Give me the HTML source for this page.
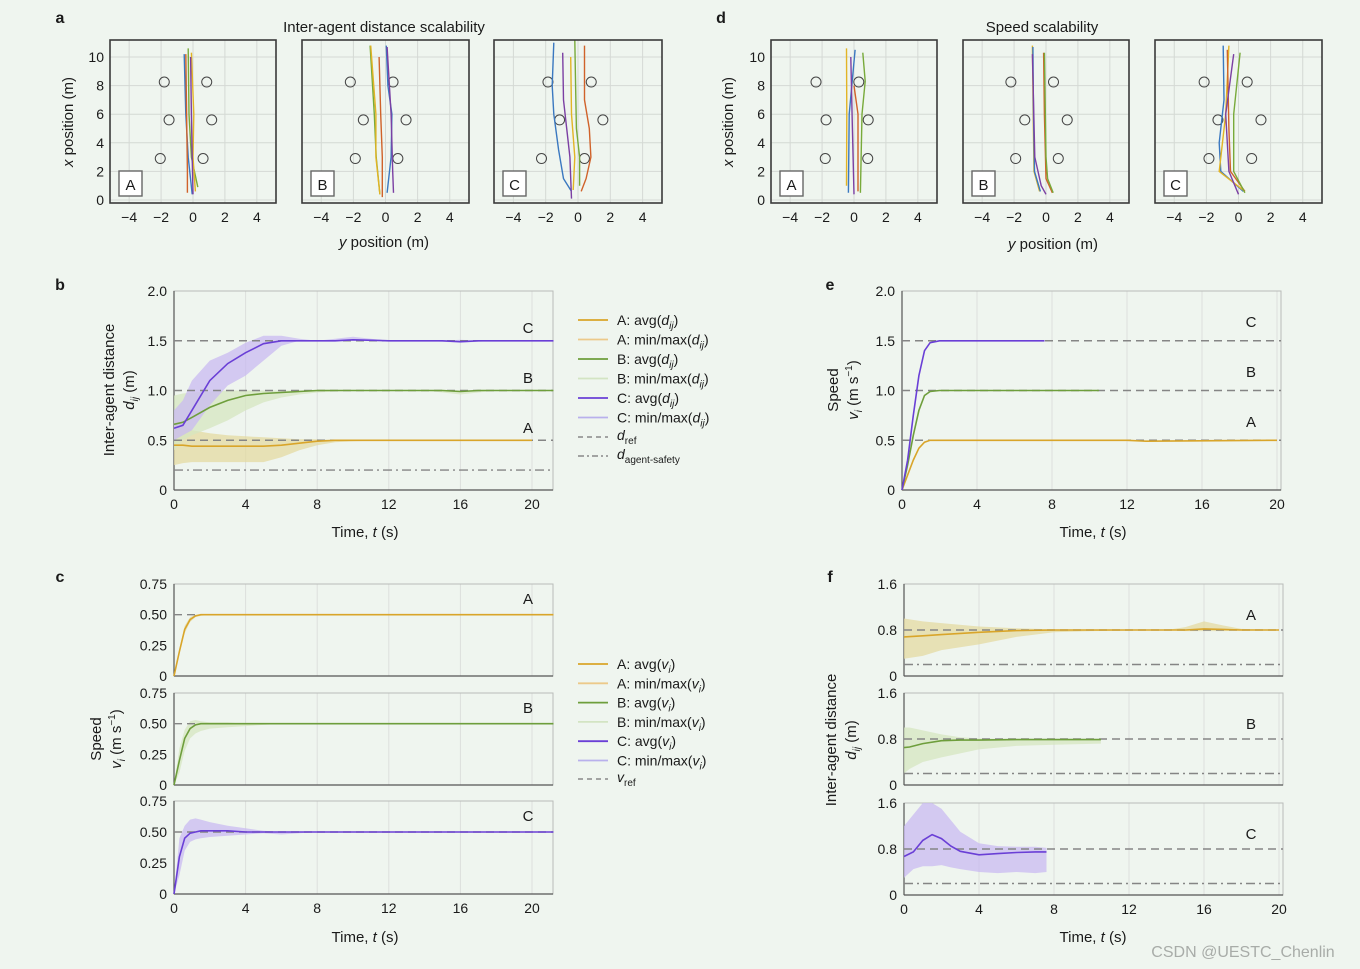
<!DOCTYPE html>
<html><head><meta charset="utf-8"><style>
html,body{margin:0;padding:0;background:#eff5ef;}
svg{display:block;font-family:"Liberation Sans",Arial,sans-serif;}
</style></head><body>
<svg id="fig" width="1360" height="969" viewBox="0 0 1360 969"></svg>
<script>
// ---------- DATA ----------
// panel a obstacles [y, x]
const obsAA=[[-1.8,8.25],[0.86,8.25],[-1.5,5.6],[1.17,5.6],[-2.05,2.9],[0.63,2.9]];
const obsAB=[[-2.19,8.25],[0.47,8.25],[-1.38,5.6],[1.28,5.6],[-1.88,2.9],[0.77,2.9]];
const obsAC=[[-1.86,8.25],[0.82,8.25],[-1.14,5.6],[1.54,5.6],[-2.26,2.9],[0.4,2.9]];
const trajAA={blue:[[-0.55,10.2],[-0.45,6],[-0.3,3],[-0.05,0.4]],orange:[[-0.45,10.2],[-0.4,6],[-0.35,2],[-0.35,0.5]],green:[[-0.3,10.6],[-0.25,6],[-0.1,3],[0.3,0.9]],yellow:[[-0.1,10.3],[0.05,6],[0,3],[0.15,0.6]],purple:[[-0.15,10],[-0.1,6],[-0.05,3],[0,0.4]]};
const trajAB={green:[[-0.96,10.8],[-0.7,6],[-0.58,3],[-0.35,0.4]],yellow:[[-0.92,10.8],[-0.6,6],[-0.6,3],[-0.35,0.4]],orange:[[-0.4,10],[-0.3,6],[-0.2,3],[-0.2,0.2]],blue:[[0.05,10.8],[0.15,8],[0.4,6],[0.35,3],[0.1,0.5]],purple:[[0.1,10.7],[0.35,6],[0.45,2],[0.5,0.5]]};
const trajAC={blue:[[-1.5,11],[-1.6,8],[-1.5,6],[-1.2,3.5],[-0.9,1.5],[-0.4,0.6]],purple:[[-0.95,10.3],[-0.9,7],[-0.7,5],[-0.5,3],[-0.4,0.1]],yellow:[[-0.45,10],[-0.4,6],[-0.2,3],[-0.3,0.7]],green:[[-0.2,11.2],[-0.15,8],[-0.1,5],[0.1,3],[0.1,1]],orange:[[0.4,10.8],[0.4,7],[0.7,5],[0.8,3],[0.5,1.5],[0.2,0.6]]};
const obsDA=[[-2.38,8.25],[0.3,8.25],[-1.75,5.6],[0.89,5.6],[-1.8,2.9],[0.86,2.9]];
const obsDB=[[-2.2,8.25],[0.47,8.25],[-1.33,5.6],[1.33,5.6],[-1.9,2.9],[0.77,2.9]];
const obsDC=[[-2.14,8.25],[0.54,8.25],[-1.28,5.6],[1.4,5.6],[-1.84,2.9],[0.82,2.9]];
const trajDA={yellow:[[-0.47,10.6],[-0.45,6],[-0.47,1]],blue:[[0.07,10.5],[-0.3,6],[-0.35,0.5]],purple:[[-0.2,10],[-0.1,5],[0,0.4]],orange:[[0,8],[0.25,6],[0.25,0.6]],green:[[0.55,10.3],[0.7,8.3],[0.5,6],[0.4,0.5]]};
const trajDB={yellow:[[-0.85,10.8],[-0.8,6],[-0.75,2],[-0.4,0.6]],blue:[[-0.82,10.7],[-0.78,6],[-0.72,2],[-0.35,0.6]],purple:[[-0.85,10.2],[-0.7,3],[-0.3,1],[0,0.4]],orange:[[-0.15,10.3],[-0.1,6],[0,1.5],[0.4,0.5]],green:[[-0.1,10.3],[0,3],[0.1,1.5],[0.45,0.5]]};
const trajDC={blue:[[-0.95,10.8],[-0.9,7],[-1.2,4],[-1.1,2],[0.3,0.6]],yellow:[[-0.6,10.8],[-0.8,6],[-1.2,2],[0.4,0.6]],orange:[[-0.7,10.5],[-0.6,5],[-0.5,2],[0.4,0.6]],purple:[[-0.3,10.2],[-0.8,6],[-0.6,2],[0,0.4]],green:[[0.1,10.3],[-0.3,6],[-0.3,2],[0.4,0.5]]};
// panel b
const tB=[0,0.5,1,2,3,4,5,6,7,8,9,10,12,14,15,16,17,18,20,21.2];
const bAavg=[0.45,0.45,0.44,0.44,0.44,0.44,0.44,0.45,0.47,0.49,0.5,0.5,0.5,0.5,0.5,0.5,0.5,0.5,0.5,0.5];
const bAmin=[0.25,0.27,0.28,0.28,0.28,0.28,0.28,0.33,0.4,0.45,0.48,0.49,0.5,0.5,0.5,0.5,0.5,0.5,0.5,0.5];
const bAmax=[0.72,0.65,0.6,0.57,0.55,0.54,0.53,0.52,0.51,0.51,0.5,0.5,0.5,0.5,0.5,0.5,0.5,0.5,0.5,0.5];
const bBavg=[0.66,0.68,0.73,0.83,0.9,0.95,0.97,0.98,0.99,1,1,1,1,1,1,0.99,1,1,1,1];
const bBmin=[0.4,0.5,0.55,0.62,0.7,0.8,0.88,0.93,0.96,0.98,0.99,1,1,1,0.98,0.96,0.98,1,1,1];
const bBmax=[0.95,0.97,0.98,0.99,1,1,1,1,1,1,1,1,1,1,1,1,1,1,1,1];
const bCavg=[0.62,0.65,0.8,1.1,1.27,1.38,1.47,1.5,1.5,1.5,1.5,1.51,1.5,1.5,1.5,1.49,1.5,1.5,1.5,1.5];
const bCmin=[0.5,0.55,0.6,0.85,1.05,1.15,1.3,1.45,1.5,1.5,1.5,1.5,1.5,1.5,1.49,1.48,1.49,1.5,1.5,1.5];
const bCmax=[0.8,0.9,1.1,1.3,1.38,1.48,1.55,1.55,1.52,1.5,1.52,1.54,1.5,1.5,1.5,1.51,1.5,1.5,1.5,1.5];
// panel e
const eCt=[0,0.3,0.6,0.9,1.2,1.5,2,3,5,7.6];
const eCv=[0,0.3,0.75,1.15,1.4,1.48,1.5,1.5,1.5,1.5];
const eBt=[0,0.3,0.6,0.9,1.2,1.5,2,4,8,10.5];
const eBv=[0,0.25,0.55,0.8,0.95,0.99,1,1,1,1];
const eAt=[0,0.3,0.6,0.9,1.2,1.5,2,4,8,12,13,20];
const eAv=[0,0.15,0.3,0.42,0.48,0.5,0.5,0.5,0.5,0.5,0.49,0.5];
// panel c
const cT=[0,0.3,0.6,0.9,1.2,1.5,2,3,4,5,6,8,21.2];
const cAavg=[0,0.2,0.38,0.46,0.49,0.5,0.5,0.5,0.5,0.5,0.5,0.5,0.5];
const cAmin=[0,0.18,0.35,0.44,0.48,0.49,0.5,0.5,0.5,0.5,0.5,0.5,0.5];
const cAmax=[0,0.22,0.41,0.48,0.5,0.5,0.5,0.5,0.5,0.5,0.5,0.5,0.5];
const cBavg=[0,0.2,0.38,0.46,0.49,0.5,0.5,0.5,0.5,0.5,0.5,0.5,0.5];
const cBmin=[0,0.1,0.28,0.38,0.42,0.44,0.46,0.47,0.48,0.49,0.5,0.5,0.5];
const cBmax=[0,0.3,0.45,0.52,0.53,0.52,0.51,0.51,0.5,0.5,0.5,0.5,0.5];
const cCavg=[0,0.3,0.45,0.49,0.5,0.51,0.51,0.51,0.5,0.5,0.5,0.5,0.5];
const cCmin=[0,0.15,0.35,0.42,0.44,0.45,0.46,0.47,0.48,0.49,0.48,0.5,0.5];
const cCmax=[0,0.45,0.55,0.6,0.61,0.6,0.58,0.55,0.53,0.51,0.5,0.5,0.5];
// panel f
const fAt=[0,1,2,4,6,8,10,12,14,15,16,17,18,20];
const fAavg=[0.68,0.7,0.72,0.76,0.79,0.8,0.8,0.8,0.8,0.8,0.82,0.81,0.8,0.8];
const fAmin=[0.3,0.35,0.45,0.55,0.68,0.76,0.78,0.79,0.8,0.78,0.78,0.78,0.79,0.8];
const fAmax=[1.0,0.95,0.92,0.86,0.83,0.81,0.8,0.8,0.8,0.85,0.95,0.88,0.82,0.8];
const fBt=[0,0.3,1,2,3,4,6,8,10.5];
const fBavg=[0.65,0.66,0.72,0.77,0.78,0.78,0.79,0.79,0.79];
const fBmin=[0.2,0.28,0.4,0.48,0.55,0.62,0.68,0.7,0.72];
const fBmax=[1.0,1.0,0.95,0.88,0.83,0.81,0.8,0.8,0.8];
const fCt=[0,0.5,1,1.5,2,2.5,3,4,5,6,7,7.6];
const fCavg=[0.67,0.75,0.95,1.05,0.98,0.85,0.76,0.7,0.72,0.74,0.75,0.75];
const fCmin=[0.3,0.45,0.5,0.5,0.52,0.48,0.45,0.4,0.38,0.4,0.38,0.4];
const fCmax=[1.2,1.4,1.6,1.6,1.5,1.3,1.1,0.9,0.85,0.84,0.84,0.82];
const timeTicks=[0,4,8,12,16,20];
const posTicks=[-4,-2,0,2,4];
const xposTicks=[0,2,4,6,8,10];

// ---------- HELPERS ----------
const NS='http://www.w3.org/2000/svg';
const svg=document.getElementById('fig');
function el(tag,attrs,name,parent){
  const e=document.createElementNS(NS,tag);
  for(const k in attrs) e.setAttribute(k,attrs[k]);
  
  
  (parent||svg).appendChild(e);
  return e;
}
function txt(x,y,s,size,name,anchor,extra){
  const a=Object.assign({x:x,y:y,'font-size':size,fill:'#1a1a1a','text-anchor':anchor||'middle'},extra||{});
  const t=el('text',a,name);
  t.textContent=s;
  return t;
}
function rtxt(x,y,html,size,name){
  const t=el('text',{x:0,y:0,'font-size':size,fill:'#1a1a1a','text-anchor':'middle',transform:`translate(${x},${y}) rotate(-90)`},name);
  t.innerHTML=html;
  return t;
}
function scale(d0,d1,p0,p1){return v=>p0+(v-d0)*(p1-p0)/(d1-d0);}
const COL={blue:'#3a78c0',orange:'#d0622a',yellow:'#e2b425',purple:'#7b3fa3',green:'#78aa3a'};
const SER={A:'#d9a52a',B:'#6e9e3c',C:'#6a3fd6'};
const FILL={A:'#e4d9a2',B:'#d6e6c0',C:'#c9b9f2'};
function line(ts,vs,sx,sy,color,w,name){
  let d='';
  for(let i=0;i<ts.length;i++) d+=(i?'L':'M')+sx(ts[i]).toFixed(1)+','+sy(vs[i]).toFixed(1);
  return el('path',{d:d,fill:'none',stroke:color,'stroke-width':w||1.5},name);
}
function band(ts,lo,hi,sx,sy,color,name){
  let d='';
  for(let i=0;i<ts.length;i++) d+=(i?'L':'M')+sx(ts[i]).toFixed(1)+','+sy(hi[i]).toFixed(1);
  for(let i=ts.length-1;i>=0;i--) d+='L'+sx(ts[i]).toFixed(1)+','+sy(lo[i]).toFixed(1);
  return el('path',{d:d+'Z',fill:color,'fill-opacity':0.75,stroke:'none'},name);
}
function hline(x0,x1,y,dash,name){
  return el('line',{x1:x0,x2:x1,y1:y,y2:y,stroke:'#858585','stroke-width':1.4,'stroke-dasharray':dash},name);
}

// ---------- TRAJECTORY SUBPLOTS ----------
function trajPlot(bx0,bx1,label,obs,traj,showY,prefix){
  const sx=scale(-5.2,5.2,bx0,bx1), sy=scale(0,10,200,57);
  for(const t of posTicks) el('line',{x1:sx(t),x2:sx(t),y1:40,y2:203,stroke:'#d4d9d4','stroke-width':1},prefix+'-grid-x');
  for(const t of xposTicks) el('line',{x1:bx0,x2:bx1,y1:sy(t),y2:sy(t),stroke:'#d4d9d4','stroke-width':1},prefix+'-grid-y');
  for(const o of obs) el('circle',{cx:sx(o[0]),cy:sy(o[1]),r:5,fill:'none',stroke:'#444','stroke-width':1},prefix+'-obstacle');
  for(const k in traj){
    const p=traj[k];
    line(p.map(q=>q[0]),p.map(q=>q[1]),sx,sy,COL[k],1.4,prefix+'-trajectory-'+k);
  }
  el('rect',{x:bx0,y:40,width:bx1-bx0,height:163,fill:'none',stroke:'#3a3a3a','stroke-width':1.6},prefix+'-frame');
  el('rect',{x:bx0+9,y:171,width:23,height:25,fill:'#fff',stroke:'#666','stroke-width':1.4},prefix+'-label-box');
  txt(bx0+20.5,190,label,15,prefix+'-label');
  for(const t of posTicks) txt(sx(t),222,t<0?'\u2212'+(-t):String(t),14,prefix+'-xtick-label');
  if(showY) for(const t of xposTicks) txt(bx0-6,sy(t)+5,String(t),14,prefix+'-ytick-label','end');
}
txt(60,23,'a',16,'panel-label-a','middle',{'font-weight':'bold'});
txt(384,32,'Inter-agent distance scalability',15,'panel-a-title');
rtxt(73,122,'<tspan font-style="italic">x</tspan> position (m)',15,'panel-a-y-axis-title');
trajPlot(110,276,'A',obsAA,trajAA,true,'a-A');
trajPlot(302,469,'B',obsAB,trajAB,false,'a-B');
trajPlot(494,662,'C',obsAC,trajAC,false,'a-C');
txt(384,247,'',15,'panel-a-x-axis-title').innerHTML='<tspan font-style="italic">y</tspan> position (m)';

txt(721,23,'d',16,'panel-label-d','middle',{'font-weight':'bold'});
txt(1042,32,'Speed scalability',15,'panel-d-title');
rtxt(733,122,'<tspan font-style="italic">x</tspan> position (m)',15,'panel-d-y-axis-title');
trajPlot(771,937,'A',obsDA,trajDA,true,'d-A');
trajPlot(963,1129,'B',obsDB,trajDB,false,'d-B');
trajPlot(1155,1322,'C',obsDC,trajDC,false,'d-C');
txt(1053,249,'',15,'panel-d-x-axis-title').innerHTML='<tspan font-style="italic">y</tspan> position (m)';

// ---------- TIME PLOT FRAME ----------
function frame(x0,x1,y0,y1,sx,sy,yticks,ylabels,prefix,showX,xr){
  for(const t of timeTicks) if(t>0) el('line',{x1:sx(t),x2:sx(t),y1:y0,y2:y1,stroke:'#dcdfdc','stroke-width':1},prefix+'-grid');
  el('rect',{x:x0,y:y0,width:x1-x0,height:y1-y0,fill:'none',stroke:'#b8bcb8','stroke-width':1},prefix+'-frame');
  el('line',{x1:x0,x2:x0,y1:y0,y2:y1,stroke:'#555','stroke-width':1.2},prefix+'-y-axis');
  el('line',{x1:x0,x2:x1,y1:y1,y2:y1,stroke:'#555','stroke-width':1.2},prefix+'-x-axis');
  for(let i=0;i<yticks.length;i++) txt(x0-7,sy(yticks[i])+5,ylabels[i],14,prefix+'-ytick-label','end');
  if(showX) for(const t of timeTicks) txt(sx(t),y1+19,String(t),14,prefix+'-xtick-label');
}

// ---------- PANEL b ----------
txt(60,290,'b',16,'panel-label-b','middle',{'font-weight':'bold'});
{
  const sx=scale(0,20,174,532), sy=scale(0,2,490,291);
  frame(174,553,291,490,sx,sy,[0,0.5,1,1.5,2],['0','0.5','1.0','1.5','2.0'],'b',true);
  band(tB,bAmin,bAmax,sx,sy,FILL.A,'b-band-A');
  band(tB,bBmin,bBmax,sx,sy,FILL.B,'b-band-B');
  band(tB,bCmin,bCmax,sx,sy,FILL.C,'b-band-C');
  for(const r of [0.5,1,1.5]) hline(174,553,sy(r),'8,5','b-d-ref-line');
  hline(174,553,sy(0.2),'9,4,2,4','b-agent-safety-line');
  line(tB.slice(0,19),bAavg.slice(0,19),sx,sy,SER.A,1.6,'b-avg-A');
  line(tB,bBavg,sx,sy,SER.B,1.6,'b-avg-B');
  line(tB,bCavg,sx,sy,SER.C,1.6,'b-avg-C');
  txt(528,333,'C',15,'b-label-C');txt(528,383,'B',15,'b-label-B');txt(528,433,'A',15,'b-label-A');
  txt(365,537,'',15,'b-x-axis-title').innerHTML='Time, <tspan font-style="italic">t</tspan> (s)';
  rtxt(114,390,'Inter-agent distance',15,'b-y-axis-title');
  rtxt(134,390,'<tspan font-style="italic">d</tspan><tspan font-style="italic" font-size="10" dy="4">ij</tspan><tspan dy="-4"> (m)</tspan>',15,'b-y-axis-unit');
}
// legend b
const legB=[['A: avg(',SER.A,''],['A: min/max(','#ecc98a',''],['B: avg(',SER.B,''],['B: min/max(','#d3e4c3',''],['C: avg(',SER.C,''],['C: min/max(','#b9b0ec','']];
legB.forEach((e,i)=>{
  const y=320+i*19.5;
  el('line',{x1:578,x2:608,y1:y,y2:y,stroke:e[1],'stroke-width':1.8},'b-legend-swatch');
  const t=txt(617,y+5,'',14,'b-legend-entry','start');
  t.innerHTML=e[0]+'<tspan font-style="italic">d</tspan><tspan font-style="italic" font-size="10" dy="4">ij</tspan><tspan dy="-4">)</tspan>';
});
el('line',{x1:578,x2:608,y1:437,y2:437,stroke:'#888','stroke-width':1.4,'stroke-dasharray':'5,4'},'b-legend-swatch-ref');
txt(617,440,'',14,'b-legend-entry-ref','start').innerHTML='<tspan font-style="italic">d</tspan><tspan font-size="10" dy="4">ref</tspan>';
el('line',{x1:578,x2:608,y1:456,y2:456,stroke:'#888','stroke-width':1.4,'stroke-dasharray':'6,3,2,3'},'b-legend-swatch-safety');
txt(617,459,'',14,'b-legend-entry-safety','start').innerHTML='<tspan font-style="italic">d</tspan><tspan font-size="10" dy="4">agent-safety</tspan>';

// ---------- PANEL e ----------
txt(830,290,'e',16,'panel-label-e','middle',{'font-weight':'bold'});
{
  const sx=scale(0,20,902,1277), sy=scale(0,2,490,291);
  frame(902,1281,291,490,sx,sy,[0,0.5,1,1.5,2],['0','0.5','1.0','1.5','2.0'],'e',true);
  for(const r of [0.5,1,1.5]) hline(902,1281,sy(r),'8,5','e-v-ref-line');
  line(eAt,eAv,sx,sy,SER.A,1.6,'e-avg-A');
  line(eBt,eBv,sx,sy,SER.B,1.6,'e-avg-B');
  line(eCt,eCv,sx,sy,SER.C,1.6,'e-avg-C');
  txt(1251,327,'C',15,'e-label-C');txt(1251,377,'B',15,'e-label-B');txt(1251,427,'A',15,'e-label-A');
  txt(1093,537,'',15,'e-x-axis-title').innerHTML='Time, <tspan font-style="italic">t</tspan> (s)';
  rtxt(838,390,'Speed',15,'e-y-axis-title');
  rtxt(858,390,'<tspan font-style="italic">v</tspan><tspan font-style="italic" font-size="10" dy="4">i</tspan><tspan dy="-4"> (m s</tspan><tspan font-size="10" dy="-6">\u22121</tspan><tspan dy="6">)</tspan>',15,'e-y-axis-unit');
}

// ---------- PANEL c ----------
txt(60,582,'c',16,'panel-label-c','middle',{'font-weight':'bold'});
{
  const sx=scale(0,20,174,532);
  const subs=[[584,676,'A',cAavg,cAmin,cAmax],[693,785,'B',cBavg,cBmin,cBmax],[801,894,'C',cCavg,cCmin,cCmax]];
  subs.forEach((s,i)=>{
    const sy=scale(0,0.75,s[1],s[0]);
    frame(174,553,s[0],s[1],sx,sy,[0,0.25,0.5,0.75],['0','0.25','0.50','0.75'],'c-'+s[2],i===2);
    band(cT,s[4],s[5],sx,sy,FILL[s[2]],'c-band-'+s[2]);
    hline(174,553,sy(0.5),'8,5','c-v-ref-line-'+s[2]);
    line(cT,s[3],sx,sy,SER[s[2]],1.6,'c-avg-'+s[2]);
    txt(528,s[0]+20,s[2],15,'c-label-'+s[2]);
  });
  txt(365,942,'',15,'c-x-axis-title').innerHTML='Time, <tspan font-style="italic">t</tspan> (s)';
  rtxt(101,739,'Speed',15,'c-y-axis-title');
  rtxt(121,739,'<tspan font-style="italic">v</tspan><tspan font-style="italic" font-size="10" dy="4">i</tspan><tspan dy="-4"> (m s</tspan><tspan font-size="10" dy="-6">\u22121</tspan><tspan dy="6">)</tspan>',15,'c-y-axis-unit');
}
const legC=[['A: avg(',SER.A],['A: min/max(','#ecc98a'],['B: avg(',SER.B],['B: min/max(','#d3e4c3'],['C: avg(',SER.C],['C: min/max(','#b9b0ec']];
legC.forEach((e,i)=>{
  const y=664+i*19.3;
  el('line',{x1:578,x2:608,y1:y,y2:y,stroke:e[1],'stroke-width':1.8},'c-legend-swatch');
  const t=txt(617,y+5,'',14,'c-legend-entry','start');
  t.innerHTML=e[0]+'<tspan font-style="italic">v</tspan><tspan font-style="italic" font-size="10" dy="4">i</tspan><tspan dy="-4">)</tspan>';
});
el('line',{x1:578,x2:608,y1:779,y2:779,stroke:'#888','stroke-width':1.4,'stroke-dasharray':'5,4'},'c-legend-swatch-ref');
txt(617,782,'',14,'c-legend-entry-ref','start').innerHTML='<tspan font-style="italic">v</tspan><tspan font-size="10" dy="4">ref</tspan>';

// ---------- PANEL f ----------
txt(830,582,'f',16,'panel-label-f','middle',{'font-weight':'bold'});
{
  const sx=scale(0,20,904,1279);
  const subs=[[584,676,'A',fAt,fAavg,fAmin,fAmax],[693,785,'B',fBt,fBavg,fBmin,fBmax],[803,895,'C',fCt,fCavg,fCmin,fCmax]];
  subs.forEach((s,i)=>{
    const sy=scale(0,1.6,s[1],s[0]);
    frame(904,1283,s[0],s[1],sx,sy,[0,0.8,1.6],['0','0.8','1.6'],'f-'+s[2],i===2);
    band(s[3],s[5],s[6],sx,sy,FILL[s[2]],'f-band-'+s[2]);
    hline(904,1283,sy(0.8),'8,5','f-d-ref-line-'+s[2]);
    hline(904,1283,sy(0.2),'9,4,2,4','f-agent-safety-line-'+s[2]);
    line(s[3],s[4],sx,sy,SER[s[2]],1.6,'f-avg-'+s[2]);
    txt(1251,s[0]+36,s[2],15,'f-label-'+s[2]);
  });
  txt(1093,942,'',15,'f-x-axis-title').innerHTML='Time, <tspan font-style="italic">t</tspan> (s)';
  rtxt(836,740,'Inter-agent distance',15,'f-y-axis-title');
  rtxt(856,740,'<tspan font-style="italic">d</tspan><tspan font-style="italic" font-size="10" dy="4">ij</tspan><tspan dy="-4"> (m)</tspan>',15,'f-y-axis-unit');
}
txt(1243,957,'CSDN @UESTC_Chenlin',16,'watermark','middle',{fill:'#a8aca8'});
</script>
</body></html>
